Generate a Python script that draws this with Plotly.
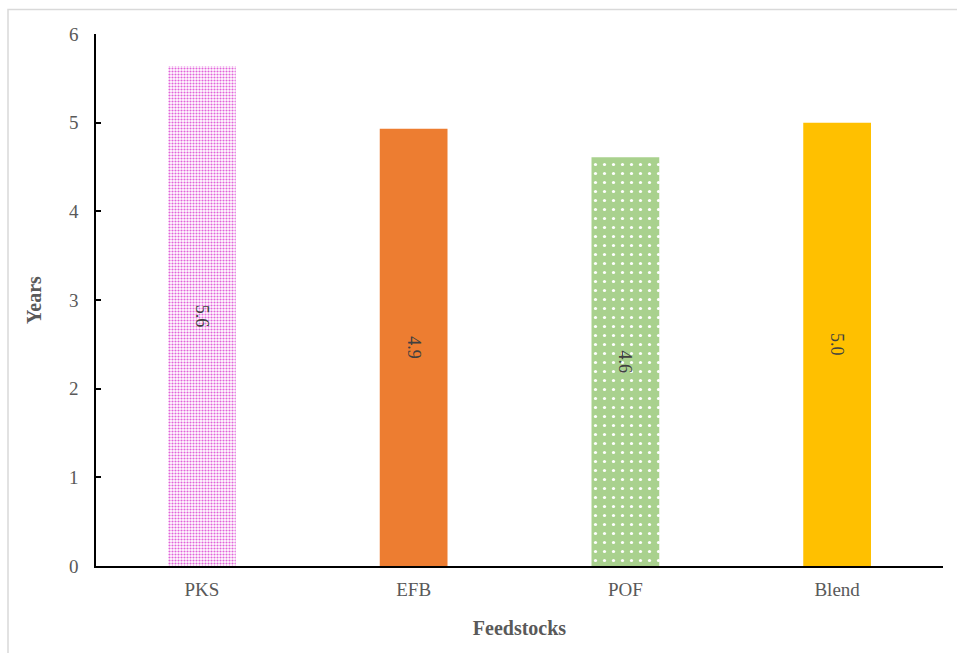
import plotly.graph_objects as go

# Payback period by feedstock
feedstocks = ["PKS", "EFB", "POF", "Blend"]
years = [5.64, 4.93, 4.61, 5.0]

y_ticks = [0, 1, 2, 3, 4, 5, 6]

# per-bar fill: background colour, pattern shape, pattern colour, size, solidity
bar_styles = [
    dict(bg="#ffffff", shape=".", fg="#e263da", size=3, solidity=0.4),
    dict(bg="#ed7d31", shape="", fg="#ed7d31", size=8, solidity=0.3),
    dict(bg="#a9d18e", shape=".", fg="#ffffff", size=9, solidity=0.1),
    dict(bg="#ffc000", shape="", fg="#ffc000", size=8, solidity=0.3),
]

W, H = 957, 653
L, R, T, B = 96, 14, 34, 87
SERIF = "Times New Roman, Liberation Serif, serif"

fig = go.Figure()
for name, val, st in zip(feedstocks, years, bar_styles):
    fig.add_trace(go.Bar(
        x=[name],
        y=[val],
        width=0.32,
        marker=dict(
            color=st["bg"],
            line=dict(width=0),
            pattern=dict(
                shape=st["shape"],
                fgcolor=st["fg"],
                bgcolor=st["bg"],
                size=st["size"],
                solidity=st["solidity"],
                fillmode="replace",
            ),
        ),
        texttemplate="%{y:.1f}",
        textposition="inside",
        insidetextanchor="middle",
        textangle=90,
        textfont=dict(family=SERIF, size=18, color="#404040"),
        hoverinfo="x+y",
    ))

plot_w = W - L - R
plot_h = H - T - B

# light outer frame of the chart area
fig.add_shape(
    type="rect", xref="paper", yref="paper",
    x0=(8 - L) / plot_w, x1=1.2,
    y0=-0.3, y1=(H - B - 9.5) / plot_h,
    line=dict(color="#d9d9d9", width=1.5),
    fillcolor="rgba(0,0,0,0)", layer="below",
)

fig.update_layout(
    width=W, height=H,
    margin=dict(l=L, r=R, t=T, b=B),
    paper_bgcolor="white",
    plot_bgcolor="white",
    showlegend=False,
    barmode="overlay",
    font=dict(family=SERIF, color="#595959", size=19),
    xaxis=dict(
        showline=True, linecolor="black", linewidth=1.5,
        ticks="", showgrid=False, zeroline=False,
        tickfont=dict(family=SERIF, size=19, color="#595959"),
        ticklabelstandoff=5,
        title=dict(text="<b>Feedstocks</b>", font=dict(family=SERIF, size=20, color="#595959"), standoff=22),
    ),
    yaxis=dict(
        range=[0, 6],
        tickvals=y_ticks,
        showline=True, linecolor="black", linewidth=1.5,
        ticks="inside", ticklen=5, tickwidth=1.5, tickcolor="black",
        showgrid=False, zeroline=False,
        tickfont=dict(family=SERIF, size=19, color="#595959"),
        ticklabelstandoff=12,
        title=dict(text="<b>Years</b>", font=dict(family=SERIF, size=20, color="#595959"), standoff=22),
    ),
)

fig.write_html("out.html")
